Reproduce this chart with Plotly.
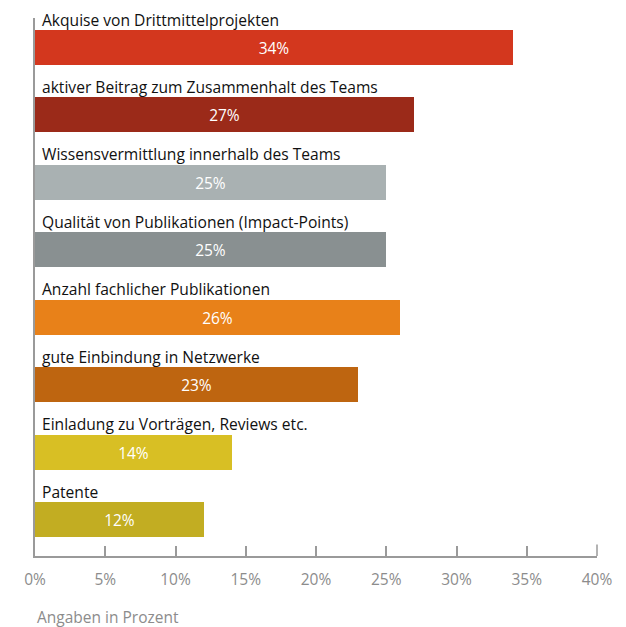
import plotly.graph_objects as go

# Survey results: criteria and their share in percent
categories = [
    "Akquise von Drittmittelprojekten",
    "aktiver Beitrag zum Zusammenhalt des Teams",
    "Wissensvermittlung innerhalb des Teams",
    "Qualität von Publikationen (Impact-Points)",
    "Anzahl fachlicher Publikationen",
    "gute Einbindung in Netzwerke",
    "Einladung zu Vorträgen, Reviews etc.",
    "Patente",
]
values = [34, 27, 25, 25, 26, 23, 14, 12]
colors = ["#D3371E", "#9B2A19", "#A9B1B2", "#899091",
          "#E88119", "#BE6510", "#D8BF24", "#C2AD22"]
tick_values = [0, 5, 10, 15, 20, 25, 30, 35, 40]
tick_labels = [f"{v}%" for v in tick_values]

FONT = "Open Sans"
AXIS_GRAY = "#9a9a9a"
idx = list(range(len(categories)))

fig = go.Figure(
    go.Bar(
        x=values,
        y=idx,
        orientation="h",
        width=0.52,
        marker=dict(color=colors, line=dict(width=0)),
        text=[f"{v}%" for v in values],
        textposition="inside",
        insidetextanchor="middle",
        textangle=0,
        textfont=dict(family=FONT, size=15.5, color="white"),
        hoverinfo="skip",
    )
)

# Category captions sit above each bar
for i, name in zip(idx, categories):
    fig.add_annotation(
        x=0, y=i, xref="x", yref="y",
        text=name, showarrow=False,
        xanchor="left", yanchor="middle",
        xshift=5, yshift=28,
        font=dict(family=FONT, size=15.6, color="#111111"),
    )

fig.add_annotation(
    x=0, y=0, xref="paper", yref="paper",
    text="Angaben in Prozent", showarrow=False,
    xanchor="left", yanchor="middle", yshift=-61,
    font=dict(family=FONT, size=15.5, color="#8c8c8c"),
)

# The closing tick at the end of the scale is drawn slightly longer
fig.add_shape(
    type="line", xref="x", yref="paper",
    x0=tick_values[-1], x1=tick_values[-1], y0=0, y1=0,
    line=dict(color=AXIS_GRAY, width=1.5),
)
fig.add_annotation(
    x=tick_values[-1], y=0, xref="x", yref="paper",
    ax=0, ay=-13, axref="pixel", ayref="pixel",
    showarrow=True, arrowhead=0, arrowwidth=1.5, arrowcolor=AXIS_GRAY,
    text="", standoff=0, startstandoff=0,
)

fig.update_layout(
    width=626, height=627,
    margin=dict(l=35, r=29, t=18, b=71),
    paper_bgcolor="white", plot_bgcolor="white",
    showlegend=False,
    bargap=0,
    xaxis=dict(
        range=[0, 40],
        tickvals=tick_values, ticktext=tick_labels,
        ticks="inside", ticklen=10, tickwidth=1.5, tickcolor=AXIS_GRAY,
        showline=True, linecolor=AXIS_GRAY, linewidth=1.5,
        showgrid=False, zeroline=False,
        tickfont=dict(family=FONT, size=15.5, color="#8c8c8c"),
        ticklabelstandoff=9,
        fixedrange=True,
    ),
    yaxis=dict(
        range=[7.541, -0.4375],
        showticklabels=False, ticks="",
        showline=True, linecolor=AXIS_GRAY, linewidth=1.5,
        showgrid=False, zeroline=False,
        fixedrange=True,
    ),
)

fig.write_html("out.html")
